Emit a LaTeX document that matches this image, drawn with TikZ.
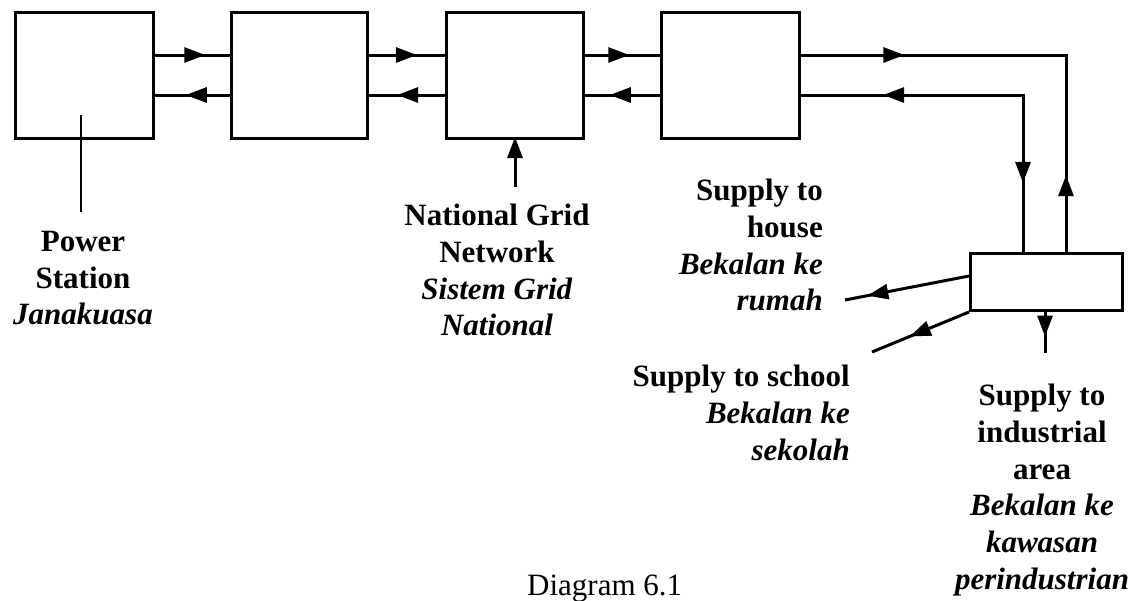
\documentclass[tikz,border=0pt]{standalone}
\usepackage{fontspec}
\setmainfont{Liberation Serif}
\usetikzlibrary{arrows.meta,decorations.markings}
\begin{document}
\begin{tikzpicture}[x=1pt,y=-1pt,
  blk/.style={draw,line width=3pt,inner sep=0pt,anchor=north west},
  wire/.style={line width=3pt},
  tipat/.style={postaction={decorate},decoration={markings,mark=at position #1 with {\arrow{Triangle[length=21pt,width=15pt]}}}},
  lbl/.style={font=\fontsize{31}{36.7}\selectfont\bfseries,inner sep=0pt},
  captxt/.style={font=\fontsize{31}{36.7}\selectfont,inner sep=0pt}]
\useasboundingbox (0,0) rectangle (1139,600);
% main boxes
\node[blk,minimum width=138pt,minimum height=126pt] (b1) at (14,11) {};
\node[blk,minimum width=136pt,minimum height=126pt] (b2) at (230,11) {};
\node[blk,minimum width=137pt,minimum height=126pt] (b3) at (445,11) {};
\node[blk,minimum width=138pt,minimum height=126pt] (b4) at (660,11) {};
\node[blk,minimum width=152pt,minimum height=57pt] (sb) at (969,252) {};
% connectors between boxes
\draw[wire,tipat=0.67] (b1.east |- 0,55) -- (b2.west |- 0,55);
\draw[wire,tipat=0.59] (b2.west |- 0,95) -- (b1.east |- 0,95);
\draw[wire,tipat=0.63] (b2.east |- 0,55) -- (b3.west |- 0,55);
\draw[wire,tipat=0.63] (b3.west |- 0,95) -- (b2.east |- 0,95);
\draw[wire,tipat=0.59] (b3.east |- 0,55) -- (b4.west |- 0,55);
\draw[wire,tipat=0.67] (b4.west |- 0,95) -- (b3.east |- 0,95);
% to distribution box
\coordinate (ctop) at (1066,55);
\coordinate (cbot) at (1023,95);
\draw[wire,line join=miter] (b4.east |- ctop) -- (ctop) -- (sb.north -| ctop);
\draw[wire,tipat=0.39] (b4.east |- ctop) -- (ctop);
\draw[wire,tipat=0.39] (sb.north -| ctop) -- (ctop);
\draw[wire,line join=miter] (b4.east |- cbot) -- (cbot) -- (sb.north -| cbot);
\draw[wire,tipat=0.63] (cbot) -- (b4.east |- cbot);
\draw[wire,tipat=0.56] (cbot) -- (sb.north -| cbot);
% outputs
\coordinate (house) at (845,300);
\coordinate (school) at (872,352);
\coordinate (indus) at (1045,353);
\draw[wire,tipat=0.82] (sb.west |- 0,276) -- (house);
\draw[wire,tipat=0.61] (sb.south west) -- (school);
\draw[wire,tipat=0.6] (sb.south -| indus) -- (indus);
% labels
\node[lbl,anchor=north,align=center] (ps) at (83,231) {Power\\Station\\\textit{Janakuasa}};
\node[lbl,anchor=north,align=center] (ng) at (497,204) {National Grid\\Network\\\textit{Sistem Grid}\\\textit{National}};
\node[lbl,anchor=north east,align=right] (hs) at (823,179) {Supply to\\house\\\textit{Bekalan ke}\\\textit{rumah}};
\node[lbl,anchor=north east,align=right] (sc) at (850,365) {Supply to school\\\textit{Bekalan ke}\\\textit{sekolah}};
\node[lbl,anchor=north,align=center] (ia) at (1042,384) {Supply to\\industrial\\area\\\textit{Bekalan ke}\\\textit{kawasan}\\\textit{perindustrian}};
\node[captxt,anchor=base west] (dg) at (527,595) {Diagram 6.1};
% pointer lines
\coordinate (pstop) at (81,115);
\coordinate (psbot) at (81,212);
\draw[line width=2pt] (pstop) -- (psbot);
\coordinate (ngbot) at (515,187);
\coordinate (ngtop) at (515,137);
\draw[wire,-{Triangle[length=21pt,width=15pt]}] (ngbot) -- (ngtop);
\end{tikzpicture}
\end{document}
